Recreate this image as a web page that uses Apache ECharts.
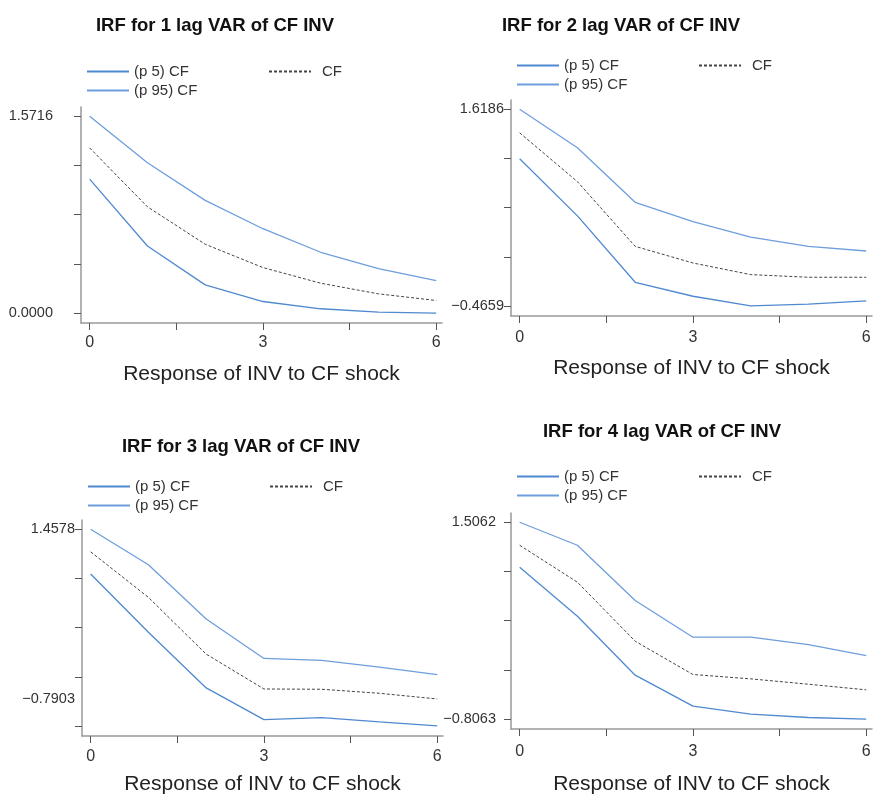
<!DOCTYPE html>
<html>
<head>
<meta charset="utf-8">
<script src="https://cdn.jsdelivr.net/npm/echarts@6/dist/echarts.min.js"></script>
<style>
  html, body { margin: 0; padding: 0; background: #fff; }
  #chart { width: 876px; height: 798px; }
</style>
</head>
<body>
<div id="chart"></div>
<script>
// horizon steps
var steps = [0, 1, 2, 3, 4, 5, 6];

// 1 lag
var p5_1  = [1.070, 0.536, 0.226, 0.093, 0.035, 0.008, 0.000];
var cf_1  = [1.319, 0.849, 0.550, 0.364, 0.239, 0.154, 0.101];
var p95_1 = [1.5716, 1.200, 0.900, 0.674, 0.486, 0.356, 0.260];
// 2 lag
var p5_2  = [1.095, 0.490, -0.213, -0.361, -0.462, -0.445, -0.410];
var cf_2  = [1.369, 0.852, 0.167, -0.009, -0.132, -0.160, -0.160];
var p95_2 = [1.6186, 1.211, 0.634, 0.430, 0.265, 0.167, 0.118];
// 3 lag
var p5_3  = [0.946, 0.282, -0.354, -0.715, -0.692, -0.741, -0.786];
var cf_3  = [1.200, 0.680, 0.032, -0.366, -0.369, -0.415, -0.480];
var p95_3 = [1.4578, 1.052, 0.434, -0.017, -0.040, -0.116, -0.203];
// 4 lag
var p5_4  = [0.978, 0.403, -0.290, -0.654, -0.748, -0.787, -0.806];
var cf_4  = [1.236, 0.802, 0.109, -0.282, -0.333, -0.396, -0.462];
var p95_4 = [1.5062, 1.236, 0.587, 0.156, 0.156, 0.070, -0.059];

var yLow  = [0.0000, -0.4659, -0.7903, -0.8063];
var yHigh = [1.5716, 1.6186, 1.4578, 1.5062];
var xTicks = [0, 1.5, 3, 4.5, 6];
var xLabels = [0, 3, 6];

var titles = ['IRF for 1 lag VAR of CF INV', 'IRF for 2 lag VAR of CF INV',
              'IRF for 3 lag VAR of CF INV', 'IRF for 4 lag VAR of CF INV'];
var xName = 'Response of INV to CF shock';

var allP5 = [p5_1, p5_2, p5_3, p5_4];
var allCF = [cf_1, cf_2, cf_3, cf_4];
var allP95 = [p95_1, p95_2, p95_3, p95_4];

// layout of each panel
var gridLeft = [81, 511, 82, 511];
var gridTop = [107, 100, 520, 513];
var titleX = [210, 616, 236, 657];
var titleTop = [11, 11, 432, 417];
var legTop = [59, 53, 474, 464];
var cfLegLeft = [263, 693, 264, 693];
var yLabelMargin = [28, 7, 7, 15];
var nameGap = [41, 42, 38, 45];
var xLabelMargin = [12, 14, 13, 15];

var font = "'Liberation Sans', Arial, sans-serif";
var blue = '#4f89d0';
var blue2 = '#6e9edb';
var clear = 'rgba(0,0,0,0)';

var myChart = echarts.init(document.getElementById('chart'));

var grid = [], xAxis = [], yAxis = [], series = [], title = [], legend = [];

for (var i = 0; i < 4; i++) {
    var lo = yLow[i], hi = yHigh[i], rng = hi - lo;
    var yTicks = [];
    for (var k = 0; k <= 4; k++) yTicks.push(lo + rng * k / 4);

    grid.push({ left: gridLeft[i], top: gridTop[i], width: 361, height: 216 });

    title.push({
        text: titles[i], left: titleX[i], top: titleTop[i], textAlign: 'center',
        textStyle: { fontFamily: font, fontWeight: 'bold', fontSize: 18.5, color: '#111' }
    });

    xAxis.push({
        type: 'value', gridIndex: i, min: -0.15, max: 6.1,
        name: xName, nameLocation: 'middle', nameGap: nameGap[i],
        nameTextStyle: { fontFamily: font, fontSize: 21, color: '#222' },
        axisLine: { show: true, onZero: false, lineStyle: { color: '#999', width: 1.5 } },
        axisTick: { show: true, length: 7, customValues: xTicks, lineStyle: { color: '#555' } },
        axisLabel: { customValues: xLabels, margin: xLabelMargin[i], fontFamily: font, fontSize: 16, color: '#333' },
        splitLine: { show: false }
    });

    var isThird = (i === 2);
    yAxis.push({
        type: 'value', gridIndex: i, min: lo - rng * 0.05, max: hi + rng * 0.047,
        axisLine: { show: true, onZero: false, lineStyle: { color: '#999', width: 1.5 } },
        axisTick: { show: true, length: 7, customValues: yTicks, lineStyle: { color: '#555' } },
        axisLabel: {
            customValues: [lo, hi], margin: yLabelMargin[i], fontFamily: font, fontSize: 14.5, color: '#333',
            formatter: (function (lo, shift) {
                return function (v) {
                    var s = v.toFixed(4).replace('-', '\u2212');
                    if (shift && Math.abs(v - lo) < 1e-6) return '{lo|' + s + '}';
                    return s;
                };
            })(lo, isThird),
            rich: { lo: { fontFamily: font, fontSize: 14.5, color: '#333', padding: [0, 0, 54, 0] } }
        },
        splitLine: { show: false }
    });

    var n5 = '(p 5) CF', n95 = '(p 95) CF', ncf = 'CF';
    var mk = function (arr) { return steps.map(function (s, j) { return [s, arr[j]]; }); };

    series.push({
        name: n5, type: 'line', xAxisIndex: i, yAxisIndex: i, data: mk(allP5[i]),
        symbol: 'none', lineStyle: { color: blue, width: 1.3 }, itemStyle: { color: blue }
    });
    series.push({
        name: n95, type: 'line', xAxisIndex: i, yAxisIndex: i, data: mk(allP95[i]),
        symbol: 'none', lineStyle: { color: blue2, width: 1.3 }, itemStyle: { color: blue2 }
    });
    series.push({
        name: ncf, type: 'line', xAxisIndex: i, yAxisIndex: i, data: mk(allCF[i]),
        symbol: 'none', lineStyle: { color: '#444', width: 1, type: [3, 2] }, itemStyle: { color: '#444' }
    });

    legend.push({
        data: [n5, n95], orient: 'vertical', left: gridLeft[i], top: legTop[i],
        itemWidth: 42, itemHeight: 12, itemGap: 4, selectedMode: false,
        itemStyle: { color: clear, borderColor: clear, borderWidth: 0 },
        textStyle: { fontFamily: font, fontSize: 15, color: '#333' }
    });
    legend.push({
        data: [ncf], orient: 'vertical', left: cfLegLeft[i], top: legTop[i],
        itemWidth: 42, itemHeight: 12, itemGap: 4, selectedMode: false,
        itemStyle: { color: clear, borderColor: clear, borderWidth: 0 },
        textStyle: { fontFamily: font, fontSize: 15, color: '#333', padding: [0, 0, 0, 6] }
    });
}

myChart.setOption({
    animation: false,
    title: title,
    legend: legend,
    grid: grid,
    xAxis: xAxis,
    yAxis: yAxis,
    series: series
});
</script>
</body>
</html>
